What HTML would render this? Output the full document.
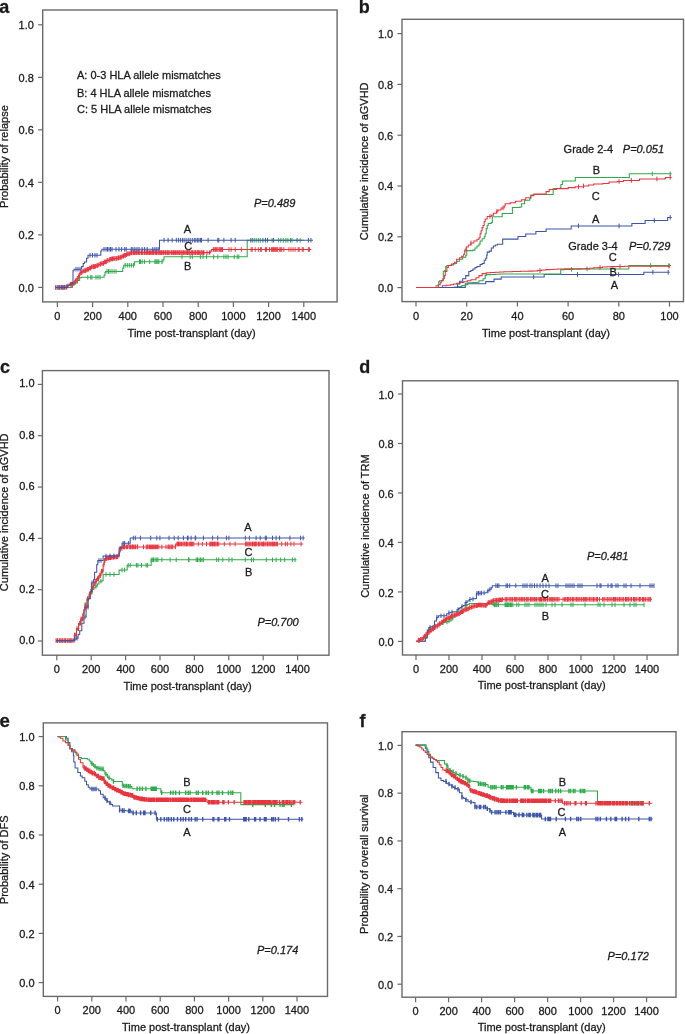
<!DOCTYPE html>
<html><head><meta charset="utf-8"><style>
html,body{margin:0;padding:0;background:#fff;width:685px;height:1034px;overflow:hidden}
svg{display:block;font-family:"Liberation Sans", sans-serif;will-change:transform;filter:blur(0.3px)}
text{stroke:#1a1a1a;stroke-width:0.28px;paint-order:stroke}
</style></head><body>
<svg width="685" height="1034" viewBox="0 0 685 1034" font-family='"Liberation Sans", sans-serif'>
<rect width="685" height="1034" fill="#fff"/>
<rect x="42.7" y="10" width="294.4" height="291.9" fill="none" stroke="#6a6a6a" stroke-width="1.4"/>
<path d="M38.1 287.4H42.7" stroke="#6a6a6a" stroke-width="1.2"/>
<text x="33.9" y="291.7" font-size="11" text-anchor="end" fill="#1a1a1a">0.0</text>
<path d="M38.1 234.88H42.7" stroke="#6a6a6a" stroke-width="1.2"/>
<text x="33.9" y="239.18" font-size="11" text-anchor="end" fill="#1a1a1a">0.2</text>
<path d="M38.1 182.36H42.7" stroke="#6a6a6a" stroke-width="1.2"/>
<text x="33.9" y="186.66" font-size="11" text-anchor="end" fill="#1a1a1a">0.4</text>
<path d="M38.1 129.84H42.7" stroke="#6a6a6a" stroke-width="1.2"/>
<text x="33.9" y="134.14" font-size="11" text-anchor="end" fill="#1a1a1a">0.6</text>
<path d="M38.1 77.32H42.7" stroke="#6a6a6a" stroke-width="1.2"/>
<text x="33.9" y="81.62" font-size="11" text-anchor="end" fill="#1a1a1a">0.8</text>
<path d="M38.1 24.8H42.7" stroke="#6a6a6a" stroke-width="1.2"/>
<text x="33.9" y="29.1" font-size="11" text-anchor="end" fill="#1a1a1a">1.0</text>
<path d="M57.4 301.9V306.9" stroke="#6a6a6a" stroke-width="1.2"/>
<text x="57.4" y="319.7" font-size="11" text-anchor="middle" fill="#1a1a1a">0</text>
<path d="M92.6 301.9V306.9" stroke="#6a6a6a" stroke-width="1.2"/>
<text x="92.6" y="319.7" font-size="11" text-anchor="middle" fill="#1a1a1a">200</text>
<path d="M127.8 301.9V306.9" stroke="#6a6a6a" stroke-width="1.2"/>
<text x="127.8" y="319.7" font-size="11" text-anchor="middle" fill="#1a1a1a">400</text>
<path d="M163 301.9V306.9" stroke="#6a6a6a" stroke-width="1.2"/>
<text x="163" y="319.7" font-size="11" text-anchor="middle" fill="#1a1a1a">600</text>
<path d="M198.2 301.9V306.9" stroke="#6a6a6a" stroke-width="1.2"/>
<text x="198.2" y="319.7" font-size="11" text-anchor="middle" fill="#1a1a1a">800</text>
<path d="M233.4 301.9V306.9" stroke="#6a6a6a" stroke-width="1.2"/>
<text x="233.4" y="319.7" font-size="11" text-anchor="middle" fill="#1a1a1a">1000</text>
<path d="M268.6 301.9V306.9" stroke="#6a6a6a" stroke-width="1.2"/>
<text x="268.6" y="319.7" font-size="11" text-anchor="middle" fill="#1a1a1a">1200</text>
<path d="M303.8 301.9V306.9" stroke="#6a6a6a" stroke-width="1.2"/>
<text x="303.8" y="319.7" font-size="11" text-anchor="middle" fill="#1a1a1a">1400</text>
<text x="127.6" y="337" font-size="11" text-anchor="start" fill="#1a1a1a">Time post-transplant (day)</text>
<text x="0" y="0" font-size="11" text-anchor="middle" fill="#1a1a1a" transform="translate(7.9 156.6) rotate(-90)">Probability of relapse</text>
<text x="-0.8" y="12.7" font-size="18" text-anchor="start" font-weight="bold" fill="#1a1a1a">a</text>
<text x="77" y="79.2" font-size="11" text-anchor="start" fill="#1a1a1a">A: 0-3 HLA allele mismatches</text>
<text x="77" y="96.9" font-size="11" text-anchor="start" fill="#1a1a1a">B: 4 HLA allele mismatches</text>
<text x="77" y="113.3" font-size="11" text-anchor="start" fill="#1a1a1a">C: 5 HLA allele mismatches</text>
<text x="254" y="206.6" font-size="11" text-anchor="start" font-style="italic" fill="#1a1a1a">P=0.489</text>
<path d="M55.6 287.5L70 287.5L72.4 287.5L72.4 285L73.95 285L73.95 283.95L75.5 283.95L75.5 282.9L77.5 282.9L77.5 280.4L79.6 280.4L79.6 277.8L81.6 277.8L81.6 277.3L104.1 277.3L104.1 275.3L105 275.3L105 272.5L105.5 272.5L105.5 271.4L122.7 271.4L122.7 268.3L123.7 268.3L123.7 265.3L133.4 265.3L134.4 265.3L134.4 261.7L162.5 261.7L163 261.7L163 259.6L164 259.6L164 256.8L247.2 256.8L247.2 240.3L303.8 240.3" fill="none" stroke="#2faa4a" stroke-width="1.05" stroke-linejoin="miter"/>
<path d="M60 285.2v4.6M63 285.2v4.6M66 285.2v4.6M87.8 275v4.6M90.8 275v4.6M91.9 275v4.6M96 275v4.6M98 275v4.6M100 275v4.6M107 269.1v4.6M108.5 269.1v4.6M110 269.1v4.6M112 269.1v4.6M114 269.1v4.6M116 269.1v4.6M125.2 263v4.6M127.3 263v4.6M129.3 263v4.6M131.4 263v4.6M133.4 263v4.6M139.5 259.4v4.6M140.5 259.4v4.6M142.1 259.4v4.6M144.6 259.4v4.6M149.7 259.4v4.6M154.9 259.4v4.6M155.9 259.4v4.6M156.9 259.4v4.6M157.9 259.4v4.6M158.9 259.4v4.6M162 259.4v4.6M182 254.5v4.6M190.2 254.5v4.6M192.3 254.5v4.6M200.4 254.5v4.6M203 254.5v4.6M206.6 254.5v4.6M213.7 254.5v4.6M217.8 254.5v4.6M223.9 254.5v4.6M226 254.5v4.6M228 254.5v4.6M234.2 254.5v4.6M237.2 254.5v4.6M238.8 254.5v4.6M250.6 238v4.6M254.2 238v4.6M256.2 238v4.6M258.3 238v4.6M260.3 238v4.6M272.1 238v4.6M278.7 238v4.6M280.8 238v4.6M283.3 238v4.6M285.9 238v4.6M287.9 238v4.6M290.5 238v4.6M292 238v4.6M300.2 238v4.6" fill="none" stroke="#2faa4a" stroke-width="1.0"/>
<path d="M55.6 287.5L57.54 287.5L57.54 287.4L59.48 287.4L59.48 287.3L61.42 287.3L61.42 287.2L63.36 287.2L63.36 287.1L65.3 287.1L65.3 287L66.8 287L66.8 286L68.3 286L68.3 285L70.35 285L70.35 284.2L72.4 284.2L72.4 283.4L73.95 283.4L73.95 282.15L75.5 282.15L75.5 280.9L77 280.9L77 278.3L78.6 278.3L78.6 275.3L80 275.3L80 272.5L81.8 272.5L81.8 271.6L83.6 271.6L83.6 270.7L85.45 270.7L85.45 269.95L87.3 269.95L87.3 269.2L89.1 269.2L89.1 268.1L90.9 268.1L90.9 267L92.75 267L92.75 266.65L94.6 266.65L94.6 266.3L96.4 266.3L96.4 265.55L98.2 265.55L98.2 264.8L99.7 264.8L99.7 264.1L101.2 264.1L101.2 263.4L104.1 263.4L104.1 261.9L106.3 261.9L106.3 260.4L109.2 260.4L109.2 259.3L111 259.3L111 258.95L112.8 258.95L112.8 258.6L114.65 258.6L114.65 258.4L116.5 258.4L116.5 258.2L118.3 258.2L118.3 257.7L120.1 257.7L120.1 257.2L121.95 257.2L121.95 256.25L123.8 256.25L123.8 255.3L125.6 255.3L125.6 254.6L127.4 254.6L127.4 253.9L130 253.9L130 252.8L132.5 252.8L132.5 252.7L135 252.7L135 252.6L210.7 252.6L210.7 251L211.5 251L211.5 249.5L311.4 249.5" fill="none" stroke="#e8343e" stroke-width="1.05" stroke-linejoin="miter"/>
<path d="M55.54 285.2v4.6M57.84 285.1v4.6M59.13 285.1v4.6M59.89 285v4.6M61.59 284.9v4.6M62.94 284.9v4.6M64.59 284.8v4.6M66.16 284.7v4.6M66.69 284.7v4.6M68.01 283.7v4.6M70.37 281.9v4.6M71.26 281.9v4.6M71.44 281.9v4.6M72.36 281.9v4.6M73.87 281.1v4.6M74.69 279.85v4.6M75.54 278.6v4.6M76.14 278.6v4.6M77.29 276v4.6M78.19 276v4.6M79.07 273v4.6M79.62 273v4.6M80.74 270.2v4.6M81.61 270.2v4.6M82.78 269.3v4.6M83.9 268.4v4.6M84.76 268.4v4.6M85.34 268.4v4.6M86.16 267.65v4.6M86.91 267.65v4.6M87.62 266.9v4.6M88.52 266.9v4.6M89.77 265.8v4.6M90.55 265.8v4.6M91.5 264.7v4.6M92.82 264.35v4.6M93.42 264.35v4.6M94.35 264.35v4.6M94.99 264v4.6M95.71 264v4.6M96.86 263.25v4.6M97.61 263.25v4.6M98.81 262.5v4.6M100.1 261.8v4.6M100.74 261.8v4.6M101.24 261.1v4.6M102.72 261.1v4.6M103.54 261.1v4.6M104.39 259.6v4.6M105.43 259.6v4.6M106.21 259.6v4.6M107.13 258.1v4.6M107.68 258.1v4.6M109.09 258.1v4.6M109.97 257v4.6M110.23 257v4.6M111.61 256.65v4.6M112.47 256.65v4.6M113.17 256.3v4.6M114.12 256.3v4.6M114.99 256.1v4.6M116.24 256.1v4.6M116.8 255.9v4.6M117.97 255.9v4.6M118.48 255.4v4.6M119.81 255.4v4.6M120.72 254.9v4.6M121.27 254.9v4.6M122.25 253.95v4.6M123.44 253.95v4.6M124.18 253v4.6M124.89 253v4.6M125.57 253v4.6M126.56 252.3v4.6M127.76 251.6v4.6M128.23 251.6v4.6M129.73 251.6v4.6M130.11 250.5v4.6M131.53 250.5v4.6M131.95 250.5v4.6M133.37 250.4v4.6M134.07 250.4v4.6M134.8 250.4v4.6M134.79 250.4v4.6M135.94 250.3v4.6M136.69 250.3v4.6M137.78 250.3v4.6M138.7 250.3v4.6M139.15 250.3v4.6M140.01 250.3v4.6M141.57 250.3v4.6M142.01 250.3v4.6M142.88 250.3v4.6M144.4 250.3v4.6M144.88 250.3v4.6M146.07 250.3v4.6M146.68 250.3v4.6M147.71 250.3v4.6M148.22 250.3v4.6M149.51 250.3v4.6M150.6 250.3v4.6M151.22 250.3v4.6M152.3 250.3v4.6M153.14 250.3v4.6M153.55 250.3v4.6M155.01 250.3v4.6M155.77 250.3v4.6M156.44 250.3v4.6M157.12 250.3v4.6M158.7 250.3v4.6M159.28 250.3v4.6M160.38 250.3v4.6M161.41 250.3v4.6M162.17 250.3v4.6M163.24 250.3v4.6M163.71 250.3v4.6M164.94 250.3v4.6M165.56 250.3v4.6M166.85 250.3v4.6M167.71 250.3v4.6M167.97 250.3v4.6M168.91 250.3v4.6M169.87 250.3v4.6M171.38 250.3v4.6M171.85 250.3v4.6M172.9 250.3v4.6M173.54 250.3v4.6M174.61 250.3v4.6M175.41 250.3v4.6M176.28 250.3v4.6M177.37 250.3v4.6M178.27 250.3v4.6M179.43 250.3v4.6M180.15 250.3v4.6M181.25 250.3v4.6M182.09 250.3v4.6M183.1 250.3v4.6M183.74 250.3v4.6M184.23 250.3v4.6M185.69 250.3v4.6M186.68 250.3v4.6M187.53 250.3v4.6M188.16 250.3v4.6M189.17 250.3v4.6M189.67 250.3v4.6M191.07 250.3v4.6M191.76 250.3v4.6M192.43 250.3v4.6M193.15 250.3v4.6M194.69 250.3v4.6M195.7 250.3v4.6M195.87 250.3v4.6M197.34 250.3v4.6M197.93 250.3v4.6M198.62 250.3v4.6M199.63 250.3v4.6M200.92 250.3v4.6M201.9 250.3v4.6M202.13 250.3v4.6M203.49 250.3v4.6M203.93 250.3v4.6M207 250.3v4.6M209.6 250.3v4.6M213.29 247.2v4.6M214.08 247.2v4.6M215.22 247.2v4.6M215.92 247.2v4.6M216.75 247.2v4.6M217.92 247.2v4.6M219.24 247.2v4.6M220.04 247.2v4.6M220.91 247.2v4.6M221.37 247.2v4.6M222.53 247.2v4.6M229 247.2v4.6M231.1 247.2v4.6M235.2 247.2v4.6M241.3 247.2v4.6M251.13 247.2v4.6M252.15 247.2v4.6M255.22 247.2v4.6M258.28 247.2v4.6M260.33 247.2v4.6M261.35 247.2v4.6M265.44 247.2v4.6M266.46 247.2v4.6M269.52 247.2v4.6M271.57 247.2v4.6M272.59 247.2v4.6M273.61 247.2v4.6M274.63 247.2v4.6M275.66 247.2v4.6M276.68 247.2v4.6M277.7 247.2v4.6M279.74 247.2v4.6M280.77 247.2v4.6M281.79 247.2v4.6M283.83 247.2v4.6M288.94 247.2v4.6M290.98 247.2v4.6M293.03 247.2v4.6M295.07 247.2v4.6M298.14 247.2v4.6M299.16 247.2v4.6M302.22 247.2v4.6M303.25 247.2v4.6M308.36 247.2v4.6M309.38 247.2v4.6" fill="none" stroke="#e8343e" stroke-width="1.0"/>
<path d="M55.6 287.5L65.3 287.5L67.3 287.5L67.3 285.3L69.65 285.3L69.65 283.95L72 283.95L72 282.6L73 282.6L73 270.7L74 270.7L74 269.2L80.5 269.2L81.6 269.2L81.6 266.6L83.2 266.6L83.2 263.5L84.4 263.5L84.4 261.9L86.6 261.9L86.6 258.2L88 258.2L88 255.3L99.7 255.3L100.8 255.3L100.8 250.9L101.9 250.9L101.9 249.3L159.5 249.3L159.5 240.2L313 240.2" fill="none" stroke="#3d55a8" stroke-width="1.05" stroke-linejoin="miter"/>
<path d="M57 285.2v4.6M59 285.2v4.6M62 285.2v4.6M64 285.2v4.6M76 266.9v4.6M78 266.9v4.6M80 266.9v4.6M90 253v4.6M92.5 253v4.6M95 253v4.6M97 253v4.6M104 247v4.6M106 247v4.6M107.5 247v4.6M109 247v4.6M110.5 247v4.6M112 247v4.6M116 247v4.6M119 247v4.6M121.6 247v4.6M124.7 247v4.6M126.2 247v4.6M131.3 247v4.6M132.9 247v4.6M134.9 247v4.6M137 247v4.6M139 247v4.6M142.1 247v4.6M144.6 247v4.6M147.2 247v4.6M152.8 247v4.6M154.9 247v4.6M156.9 247v4.6M158.9 247v4.6M164 237.9v4.6M168.1 237.9v4.6M172.2 237.9v4.6M176.3 237.9v4.6M178.4 237.9v4.6M180.4 237.9v4.6M182.4 237.9v4.6M184.1 237.9v4.6M186.1 237.9v4.6M188.2 237.9v4.6M190.2 237.9v4.6M192.3 237.9v4.6M194.3 237.9v4.6M195.8 237.9v4.6M197.4 237.9v4.6M198.9 237.9v4.6M200.4 237.9v4.6M201.5 237.9v4.6M208.1 237.9v4.6M217.8 237.9v4.6M218.8 237.9v4.6M223.9 237.9v4.6M231.1 237.9v4.6M235.2 237.9v4.6M252.2 237.9v4.6M262.9 237.9v4.6M265.4 237.9v4.6M267.5 237.9v4.6M273.6 237.9v4.6M297.1 237.9v4.6M308.4 237.9v4.6M310.9 237.9v4.6" fill="none" stroke="#3d55a8" stroke-width="1.0"/>
<text x="187.5" y="233" font-size="11" text-anchor="middle" fill="#1a1a1a">A</text>
<text x="188.2" y="249.9" font-size="11" text-anchor="middle" fill="#1a1a1a">C</text>
<text x="187.7" y="269.9" font-size="11" text-anchor="middle" fill="#1a1a1a">B</text>
<rect x="402" y="19.3" width="281.5" height="282.3" fill="none" stroke="#6a6a6a" stroke-width="1.4"/>
<path d="M397.4 287.6H402" stroke="#6a6a6a" stroke-width="1.2"/>
<text x="393.2" y="291.9" font-size="11" text-anchor="end" fill="#1a1a1a">0.0</text>
<path d="M397.4 236.8H402" stroke="#6a6a6a" stroke-width="1.2"/>
<text x="393.2" y="241.1" font-size="11" text-anchor="end" fill="#1a1a1a">0.2</text>
<path d="M397.4 186H402" stroke="#6a6a6a" stroke-width="1.2"/>
<text x="393.2" y="190.3" font-size="11" text-anchor="end" fill="#1a1a1a">0.4</text>
<path d="M397.4 135.2H402" stroke="#6a6a6a" stroke-width="1.2"/>
<text x="393.2" y="139.5" font-size="11" text-anchor="end" fill="#1a1a1a">0.6</text>
<path d="M397.4 84.4H402" stroke="#6a6a6a" stroke-width="1.2"/>
<text x="393.2" y="88.7" font-size="11" text-anchor="end" fill="#1a1a1a">0.8</text>
<path d="M397.4 33.6H402" stroke="#6a6a6a" stroke-width="1.2"/>
<text x="393.2" y="37.9" font-size="11" text-anchor="end" fill="#1a1a1a">1.0</text>
<path d="M416 301.6V306.6" stroke="#6a6a6a" stroke-width="1.2"/>
<text x="416" y="320" font-size="11" text-anchor="middle" fill="#1a1a1a">0</text>
<path d="M466.7 301.6V306.6" stroke="#6a6a6a" stroke-width="1.2"/>
<text x="466.7" y="320" font-size="11" text-anchor="middle" fill="#1a1a1a">20</text>
<path d="M517.4 301.6V306.6" stroke="#6a6a6a" stroke-width="1.2"/>
<text x="517.4" y="320" font-size="11" text-anchor="middle" fill="#1a1a1a">40</text>
<path d="M568.1 301.6V306.6" stroke="#6a6a6a" stroke-width="1.2"/>
<text x="568.1" y="320" font-size="11" text-anchor="middle" fill="#1a1a1a">60</text>
<path d="M618.8 301.6V306.6" stroke="#6a6a6a" stroke-width="1.2"/>
<text x="618.8" y="320" font-size="11" text-anchor="middle" fill="#1a1a1a">80</text>
<path d="M669.5 301.6V306.6" stroke="#6a6a6a" stroke-width="1.2"/>
<text x="669.5" y="320" font-size="11" text-anchor="middle" fill="#1a1a1a">100</text>
<text x="482" y="336.9" font-size="11" text-anchor="start" fill="#1a1a1a">Time post-transplant (day)</text>
<text x="0" y="0" font-size="11" text-anchor="middle" fill="#1a1a1a" transform="translate(367.9 161.3) rotate(-90)">Cumulative incidence of aGVHD</text>
<text x="358.8" y="13.4" font-size="18" text-anchor="start" font-weight="bold" fill="#1a1a1a">b</text>
<text x="563.6" y="153.3" font-size="11" text-anchor="start" fill="#1a1a1a">Grade 2-4</text>
<text x="622.8" y="153.3" font-size="11" text-anchor="start" font-style="italic" fill="#1a1a1a">P=0.051</text>
<text x="568.2" y="250.4" font-size="11" text-anchor="start" fill="#1a1a1a">Grade 3-4</text>
<text x="629" y="250.4" font-size="11" text-anchor="start" font-style="italic" fill="#1a1a1a">P=0.729</text>
<path d="M416 287.5L465.3 287.5L465.3 283.8L485.7 283.8L485.7 281.6L494 281.6L494 279.1L501.2 279.1L501.2 276.9L544.2 276.9L544.2 274.5L643.8 274.5L643.8 272.2L669.7 272.2" fill="none" stroke="#3d55a8" stroke-width="1.05" stroke-linejoin="miter"/>
<path d="M533.7 274.6v4.6M577.5 272.2v4.6M618.6 272.2v4.6M652.9 269.9v4.6M668.2 269.9v4.6" fill="none" stroke="#3d55a8" stroke-width="1.0"/>
<path d="M416 287.5L450.4 287.5L454.2 287.5L454.2 286.95L458 286.95L458 286.4L461.9 286.4L461.9 285.6L465.8 285.6L465.8 284.8L467.8 284.8L467.8 282.8L472.4 282.8L472.4 282.55L477 282.55L477 282.3L479 282.3L479 280.7L483.1 280.7L483.1 278.7L485.2 278.7L485.2 275.6L486.2 275.6L486.2 274.6L490.8 274.6L490.8 274.4L495.4 274.4L495.4 274.2L500 274.2L500 274L560 274L560.7 274L560.7 269.6L564.75 269.6L564.75 269.48L568.8 269.48L568.8 269.37L572.85 269.37L572.85 269.25L576.9 269.25L576.9 269.13L580.95 269.13L580.95 269.02L585 269.02L585 268.9L628.1 268.9L628.8 268.9L628.8 265.5L671.1 265.5" fill="none" stroke="#2faa4a" stroke-width="1.05" stroke-linejoin="miter"/>
<path d="M571.6 267.07v4.6M587 266.6v4.6M650.7 263.2v4.6M669 263.2v4.6" fill="none" stroke="#2faa4a" stroke-width="1.0"/>
<path d="M416 287.5L440 287.5L442.3 287.5L442.3 285.8L446.35 285.8L446.35 285.3L450.4 285.3L450.4 284.8L453.5 284.8L453.5 284.05L456.6 284.05L456.6 283.3L460.15 283.3L460.15 282.5L463.7 282.5L463.7 281.7L467.3 281.7L467.3 280.7L470.9 280.7L470.9 279.7L476 279.7L476 277.7L479 277.7L479 275.6L482.1 275.6L482.1 273.6L486.2 273.6L486.2 272.8L490.6 272.8L490.6 272.55L495 272.55L495 272.3L499.4 272.3L499.4 272.05L503.8 272.05L503.8 271.8L507.97 271.8L507.97 271.69L512.14 271.69L512.14 271.57L516.31 271.57L516.31 271.46L520.49 271.46L520.49 271.34L524.66 271.34L524.66 271.23L528.83 271.23L528.83 271.11L533 271.11L533 271L537.37 271L537.37 270.53L541.73 270.53L541.73 270.07L546.1 270.07L546.1 269.6L549.75 269.6L549.75 269.43L553.4 269.43L553.4 269.25L557.05 269.25L557.05 269.07L560.7 269.07L560.7 268.9L564.75 268.9L564.75 268.85L568.8 268.85L568.8 268.8L572.85 268.8L572.85 268.75L576.9 268.75L576.9 268.7L580.95 268.7L580.95 268.65L585 268.65L585 268.6L589.38 268.6L589.38 268.22L593.76 268.22L593.76 267.84L598.14 267.84L598.14 267.46L602.52 267.46L602.52 267.08L606.9 267.08L606.9 266.7L611.28 266.7L611.28 266.6L615.66 266.6L615.66 266.5L620.04 266.5L620.04 266.4L624.42 266.4L624.42 266.3L628.8 266.3L628.8 266.2L669.7 266.2" fill="none" stroke="#e8343e" stroke-width="1.05" stroke-linejoin="miter"/>
<path d="M540 268.23v4.6M600 265.16v4.6M620 264.2v4.6M669 263.9v4.6" fill="none" stroke="#e8343e" stroke-width="1.0"/>
<path d="M416 287.5L457 287.5L457.5 287.5L457.5 284L459.6 284L459.6 281.2L462.7 281.2L462.7 278.7L465.8 278.7L465.8 275.6L468.8 275.6L468.8 271.5L470.9 271.5L470.9 270.5L472.9 270.5L472.9 269L475 269L475 267.4L477 267.4L477 266.4L480.1 266.4L480.1 264.4L482.1 264.4L482.1 263.4L484.2 263.4L484.2 260.3L485.7 260.3L485.7 258.2L486.7 258.2L486.7 255.2L487.2 255.2L487.2 252.1L489.3 252.1L489.3 251.1L491.3 251.1L491.3 248L493.4 248L493.4 246L495.4 246L495.4 245L497.4 245L497.4 244.2L502.7 244.2L502.7 239.1L518 239.1L518 236.5L525.7 236.5L525.7 234L535.9 234L535.9 231.4L546.1 231.4L546.1 228.9L571.2 228.9L571.2 225.9L631.9 225.9L631.9 223.4L645.1 223.4L645.1 220.5L667.6 220.5L667.6 217.4L671.7 217.4" fill="none" stroke="#3d55a8" stroke-width="1.05" stroke-linejoin="miter"/>
<path d="M578.4 223.6v4.6M619.1 223.6v4.6M654.3 218.2v4.6M670.2 215.1v4.6" fill="none" stroke="#3d55a8" stroke-width="1.0"/>
<path d="M416 287.5L435 287.5L436.1 287.5L436.1 285.8L438.7 285.8L438.7 281.7L439.7 281.7L439.7 280.7L443.3 280.7L443.3 271.5L444.3 271.5L444.3 270.5L445.8 270.5L445.8 266.4L446.9 266.4L446.9 265.4L450.4 265.4L450.4 264.9L453.5 264.9L453.5 263.4L456.6 263.4L456.6 261.3L459.6 261.3L459.6 259.3L462.7 259.3L462.7 257.2L465.8 257.2L465.8 255.2L466.8 255.2L466.8 250.6L472.9 250.6L472.9 250.1L475 250.1L475 248L477 248L477 246L479 246L479 243.9L480.1 243.9L480.1 240.9L482.1 240.9L482.1 238.8L484.2 238.8L484.2 236.8L485.2 236.8L485.2 233.7L486.2 233.7L486.2 228.6L487.2 228.6L487.2 225.5L488.2 225.5L488.2 223.5L491.3 223.5L491.3 222.5L492.3 222.5L492.3 216.8L502.2 216.8L502.2 213.5L512.4 213.5L512.4 207.4L520 207.4L520 206.9L521.6 206.9L521.6 203.8L524.6 203.8L524.6 200.3L529.7 200.3L529.7 198.7L530.8 198.7L530.8 195.1L533.8 195.1L533.8 194.4L553.2 194.4L553.2 188.5L560.4 188.5L560.4 187.5L560.9 187.5L560.9 184.4L562.4 184.4L562.4 181.3L563.1 181.3L563.1 181L575.3 181L575.3 177.4L629.3 177.4L629.3 173.8L671.7 173.8" fill="none" stroke="#2faa4a" stroke-width="1.05" stroke-linejoin="miter"/>
<path d="M652.3 171.5v4.6M670.2 171.5v4.6" fill="none" stroke="#2faa4a" stroke-width="1.0"/>
<path d="M416 287.5L436 287.5L438.2 287.5L438.2 284.8L440.2 284.8L440.2 282.8L441.2 282.8L441.2 280.7L442.8 280.7L442.8 278.7L444.3 278.7L444.3 275.6L445.3 275.6L445.3 271.5L446.9 271.5L446.9 267.4L448.4 267.4L448.4 265.4L451.5 265.4L451.5 263.9L454.5 263.9L454.5 262.3L456.6 262.3L456.6 259.3L459.6 259.3L459.6 257.7L461.7 257.7L461.7 256.2L463.7 256.2L463.7 254.2L464.7 254.2L464.7 250.1L466.3 250.1L466.3 247L468.3 247L468.3 245L470.9 245L470.9 242.9L473.9 242.9L473.9 240.9L477 240.9L477 239.3L479 239.3L479 237.8L480.1 237.8L480.1 233.7L481.1 233.7L481.1 230.7L482.1 230.7L482.1 227.6L483.1 227.6L483.1 225.5L484.2 225.5L484.2 221.5L485.2 221.5L485.2 218.9L487.2 218.9L487.2 216.4L491.3 216.4L491.3 215.3L493.4 215.3L493.4 213.3L496.4 213.3L496.4 211.2L498.1 211.2L498.1 210L501.1 210L501.1 207.9L504.2 207.9L504.2 205.9L505.2 205.9L505.2 203.8L510.3 203.8L510.3 202.8L515.4 202.8L515.4 201.3L521.6 201.3L521.6 199.7L525.7 199.7L525.7 197.7L530.8 197.7L530.8 195.7L533.8 195.7L533.8 194.1L542 194.1L546.1 194.1L546.1 191.6L549.2 191.6L549.2 189.5L556.3 189.5L556.3 188.6L568.2 188.6L568.2 187.6L575.3 187.6L575.3 186.8L583.5 186.8L583.5 186L588.6 186L588.6 185L593.7 185L593.7 184L602.9 184L602.9 183.5L609 183.5L609 182L617.2 182L617.2 181.5L623.4 181.5L623.4 180.4L629.3 180.4L639.5 180.4L639.5 178.9L665 178.9L665 178.4L665.6 178.4L665.6 177.4L671.7 177.4" fill="none" stroke="#e8343e" stroke-width="1.05" stroke-linejoin="miter"/>
<path d="M466 247.8v4.6M471 240.6v4.6M490 214.1v4.6M497 208.9v4.6M503 205.6v4.6M578.4 184.5v4.6M583.5 183.7v4.6M619 179.2v4.6M631.4 178.1v4.6M656.9 176.6v4.6M670.2 175.1v4.6" fill="none" stroke="#e8343e" stroke-width="1.0"/>
<text x="596.3" y="173.8" font-size="11" text-anchor="middle" fill="#1a1a1a">B</text>
<text x="595.8" y="199.6" font-size="11" text-anchor="middle" fill="#1a1a1a">C</text>
<text x="595.6" y="222.5" font-size="11" text-anchor="middle" fill="#1a1a1a">A</text>
<text x="612.7" y="260.8" font-size="11" text-anchor="middle" fill="#1a1a1a">C</text>
<text x="613.1" y="276.2" font-size="11" text-anchor="middle" fill="#1a1a1a">B</text>
<text x="614.4" y="288.9" font-size="11" text-anchor="middle" fill="#1a1a1a">A</text>
<rect x="42.4" y="370.6" width="286.6" height="284.6" fill="none" stroke="#6a6a6a" stroke-width="1.4"/>
<path d="M37.8 641H42.4" stroke="#6a6a6a" stroke-width="1.2"/>
<text x="34.5" y="644" font-size="11" text-anchor="end" fill="#1a1a1a">0.0</text>
<path d="M37.8 589.68H42.4" stroke="#6a6a6a" stroke-width="1.2"/>
<text x="34.5" y="592.68" font-size="11" text-anchor="end" fill="#1a1a1a">0.2</text>
<path d="M37.8 538.36H42.4" stroke="#6a6a6a" stroke-width="1.2"/>
<text x="34.5" y="541.36" font-size="11" text-anchor="end" fill="#1a1a1a">0.4</text>
<path d="M37.8 487.04H42.4" stroke="#6a6a6a" stroke-width="1.2"/>
<text x="34.5" y="490.04" font-size="11" text-anchor="end" fill="#1a1a1a">0.6</text>
<path d="M37.8 435.72H42.4" stroke="#6a6a6a" stroke-width="1.2"/>
<text x="34.5" y="438.72" font-size="11" text-anchor="end" fill="#1a1a1a">0.8</text>
<path d="M37.8 384.4H42.4" stroke="#6a6a6a" stroke-width="1.2"/>
<text x="34.5" y="387.4" font-size="11" text-anchor="end" fill="#1a1a1a">1.0</text>
<path d="M56.8 655.2V660.2" stroke="#6a6a6a" stroke-width="1.2"/>
<text x="56.8" y="673" font-size="11" text-anchor="middle" fill="#1a1a1a">0</text>
<path d="M91.2 655.2V660.2" stroke="#6a6a6a" stroke-width="1.2"/>
<text x="91.2" y="673" font-size="11" text-anchor="middle" fill="#1a1a1a">200</text>
<path d="M125.6 655.2V660.2" stroke="#6a6a6a" stroke-width="1.2"/>
<text x="125.6" y="673" font-size="11" text-anchor="middle" fill="#1a1a1a">400</text>
<path d="M160 655.2V660.2" stroke="#6a6a6a" stroke-width="1.2"/>
<text x="160" y="673" font-size="11" text-anchor="middle" fill="#1a1a1a">600</text>
<path d="M194.4 655.2V660.2" stroke="#6a6a6a" stroke-width="1.2"/>
<text x="194.4" y="673" font-size="11" text-anchor="middle" fill="#1a1a1a">800</text>
<path d="M228.8 655.2V660.2" stroke="#6a6a6a" stroke-width="1.2"/>
<text x="228.8" y="673" font-size="11" text-anchor="middle" fill="#1a1a1a">1000</text>
<path d="M263.2 655.2V660.2" stroke="#6a6a6a" stroke-width="1.2"/>
<text x="263.2" y="673" font-size="11" text-anchor="middle" fill="#1a1a1a">1200</text>
<path d="M297.6 655.2V660.2" stroke="#6a6a6a" stroke-width="1.2"/>
<text x="297.6" y="673" font-size="11" text-anchor="middle" fill="#1a1a1a">1400</text>
<text x="123.6" y="689.9" font-size="11" text-anchor="start" fill="#1a1a1a">Time post-transplant (day)</text>
<text x="0" y="0" font-size="11" text-anchor="middle" fill="#1a1a1a" transform="translate(8.2 512.3) rotate(-90)">Cumulative incidence of aGVHD</text>
<text x="-0.1" y="373" font-size="18" text-anchor="start" font-weight="bold" fill="#1a1a1a">c</text>
<text x="257.4" y="625.6" font-size="11" text-anchor="start" font-style="italic" fill="#1a1a1a">P=0.700</text>
<path d="M56 640.6L73 640.6L74.4 640.6L74.4 635.5L76.5 635.5L76.5 629.5L78.6 629.5L78.6 624.5L80.8 624.5L80.8 620L82.9 620L82.9 614.7L84 614.7L84 610L85 610L85 603.1L87.1 603.1L87.1 598.8L89.3 598.8L89.3 594.6L90.9 594.6L90.9 591.95L92.5 591.95L92.5 589.3L94.1 589.3L94.1 587.7L95.7 587.7L95.7 586.1L97.3 586.1L97.3 583.95L98.9 583.95L98.9 581.8L100.45 581.8L100.45 581.25L102 581.25L102 580.7L103.1 580.7L103.1 574.4L118 574.4L119.1 574.4L119.1 570.1L120.97 570.1L120.97 570.05L122.85 570.05L122.85 570L124.72 570L124.72 569.95L126.6 569.95L126.6 569.9L127.2 569.9L127.2 565.3L150.7 565.3L151.2 565.3L151.2 559.8L296.5 559.8" fill="none" stroke="#2faa4a" stroke-width="1.05" stroke-linejoin="miter"/>
<path d="M88 596.5v4.6M92 589.65v4.6M96 583.8v4.6M101 578.95v4.6M106 572.1v4.6M110 572.1v4.6M114 572.1v4.6M122 567.75v4.6M124.6 567.7v4.6M128.2 563v4.6M130.2 563v4.6M136.4 563v4.6M137.9 563v4.6M141.5 563v4.6M146.1 563v4.6M147.6 563v4.6M151.23 557.5v4.6M152.71 557.5v4.6M153.56 557.5v4.6M155.07 557.5v4.6M156.77 557.5v4.6M157.91 557.5v4.6M161.9 557.5v4.6M170.1 557.5v4.6M176.2 557.5v4.6M188.5 557.5v4.6M189 557.5v4.6M196.2 557.5v4.6M197.5 557.5v4.6M199 557.5v4.6M200.5 557.5v4.6M202 557.5v4.6M203.4 557.5v4.6M216.7 557.5v4.6M218.7 557.5v4.6M222.8 557.5v4.6M228.9 557.5v4.6M232 557.5v4.6M245.3 557.5v4.6M251.5 557.5v4.6M253.6 557.5v4.6M266.3 557.5v4.6M272.5 557.5v4.6M276.1 557.5v4.6M280.7 557.5v4.6M284.7 557.5v4.6M292.4 557.5v4.6M295 557.5v4.6" fill="none" stroke="#2faa4a" stroke-width="1.0"/>
<path d="M56 640.6L72.3 640.6L74.4 640.6L74.4 635L76.5 635L76.5 628.6L78.6 628.6L78.6 623.3L80.8 623.3L80.8 619L82.9 619L82.9 613.7L84 613.7L84 609.5L85 609.5L85 606.3L87.1 606.3L87.1 598.8L89.3 598.8L89.3 594.6L90.3 594.6L90.3 591.4L91.9 591.4L91.9 587.65L93.5 587.65L93.5 583.9L95.1 583.9L95.1 581.25L96.7 581.25L96.7 578.6L98.9 578.6L98.9 575.4L101 575.4L101 571.2L103.1 571.2L103.1 564.8L104.2 564.8L104.2 560.5L105.2 560.5L105.2 558.4L107 558.4L107 558.03L108.8 558.03L108.8 557.67L110.6 557.67L110.6 557.3L112.37 557.3L112.37 557.13L114.13 557.13L114.13 556.97L115.9 556.97L115.9 556.8L118 556.8L118 555.2L119.1 555.2L119.1 548.8L120 548.8L120 548.4L122 548.4L122 546.9L175.2 546.9L175.7 546.9L175.7 544L303.1 544" fill="none" stroke="#e8343e" stroke-width="1.05" stroke-linejoin="miter"/>
<path d="M56.06 638.3v4.6M57.22 638.3v4.6M57.57 638.3v4.6M59.34 638.3v4.6M60.12 638.3v4.6M61.14 638.3v4.6M62.31 638.3v4.6M62.86 638.3v4.6M64.27 638.3v4.6M65.16 638.3v4.6M65.67 638.3v4.6M67.19 638.3v4.6M68.09 638.3v4.6M69.29 638.3v4.6M70.3 638.3v4.6M71.14 638.3v4.6M72.1 638.3v4.6M73.86 638.3v4.6M74.52 632.7v4.6M75.92 632.7v4.6M76.29 632.7v4.6M76.99 626.3v4.6M78.3 626.3v4.6M78.48 626.3v4.6M79.77 621v4.6M80.29 621v4.6M80.98 616.7v4.6M81.88 616.7v4.6M82.62 616.7v4.6M83.69 611.4v4.6M84.64 607.2v4.6M85.17 604v4.6M85.78 604v4.6M86.62 604v4.6M87.59 596.5v4.6M88.14 596.5v4.6M89.36 592.3v4.6M89.73 592.3v4.6M90.77 589.1v4.6M91.66 589.1v4.6M92.37 585.35v4.6M93.02 585.35v4.6M94.3 581.6v4.6M94.81 581.6v4.6M95.86 578.95v4.6M96.17 578.95v4.6M97.46 576.3v4.6M98.33 576.3v4.6M98.63 576.3v4.6M99.75 573.1v4.6M100.63 573.1v4.6M101.52 568.9v4.6M102.07 568.9v4.6M102.84 568.9v4.6M103.8 562.5v4.6M104.35 558.2v4.6M104.88 558.2v4.6M105.77 556.1v4.6M106.47 556.1v4.6M107.33 555.73v4.6M108.5 555.73v4.6M109.44 555.37v4.6M109.9 555.37v4.6M110.47 555.37v4.6M111.36 555v4.6M112.17 555v4.6M113.39 554.83v4.6M113.69 554.83v4.6M114.7 554.67v4.6M115.86 554.67v4.6M116.5 554.5v4.6M117.18 554.5v4.6M117.66 554.5v4.6M118.96 552.9v4.6M119.36 546.5v4.6M120.68 546.1v4.6M121.91 546.1v4.6M123.43 544.6v4.6M124.18 544.6v4.6M124.6 544.6v4.6M126.05 544.6v4.6M126.69 544.6v4.6M127.59 544.6v4.6M129.29 544.6v4.6M130.44 544.6v4.6M131.02 544.6v4.6M132.13 544.6v4.6M132.67 544.6v4.6M133.63 544.6v4.6M134.81 544.6v4.6M135.61 544.6v4.6M137.25 544.6v4.6M137.69 544.6v4.6M143.5 544.6v4.6M146.29 544.6v4.6M147.35 544.6v4.6M148.17 544.6v4.6M149.52 544.6v4.6M150.61 544.6v4.6M151.43 544.6v4.6M152.46 544.6v4.6M153.62 544.6v4.6M154.35 544.6v4.6M155.45 544.6v4.6M156.65 544.6v4.6M157.57 544.6v4.6M158.87 544.6v4.6M161.9 544.6v4.6M166 544.6v4.6M168.02 544.6v4.6M168.87 544.6v4.6M169.82 544.6v4.6M171.04 544.6v4.6M171.95 544.6v4.6M172.75 544.6v4.6M175.29 544.6v4.6M177.08 541.7v4.6M177.34 541.7v4.6M178.51 541.7v4.6M179.33 541.7v4.6M180.29 541.7v4.6M181.59 541.7v4.6M182.86 541.7v4.6M183.98 541.7v4.6M184.79 541.7v4.6M185.99 541.7v4.6M186.48 541.7v4.6M187.36 541.7v4.6M188.97 541.7v4.6M189.99 541.7v4.6M190.64 541.7v4.6M191.39 541.7v4.6M192.65 541.7v4.6M193.8 541.7v4.6M198.3 541.7v4.6M202.4 541.7v4.6M206.5 541.7v4.6M209.82 541.7v4.6M210.63 541.7v4.6M211.69 541.7v4.6M212.48 541.7v4.6M213.39 541.7v4.6M214.57 541.7v4.6M215.28 541.7v4.6M216.87 541.7v4.6M217.54 541.7v4.6M218.79 541.7v4.6M224.3 541.7v4.6M230 541.7v4.6M235.1 541.7v4.6M245.71 541.7v4.6M246.06 541.7v4.6M247.08 541.7v4.6M248.07 541.7v4.6M249.16 541.7v4.6M250.09 541.7v4.6M251.14 541.7v4.6M252.54 541.7v4.6M253.23 541.7v4.6M254.38 541.7v4.6M255.49 541.7v4.6M256.04 541.7v4.6M256.92 541.7v4.6M258.57 541.7v4.6M259.11 541.7v4.6M259.92 541.7v4.6M261.35 541.7v4.6M262.62 541.7v4.6M263.63 541.7v4.6M263.91 541.7v4.6M265.08 541.7v4.6M266.11 541.7v4.6M267.63 541.7v4.6M268 541.7v4.6M269.28 541.7v4.6M270.34 541.7v4.6M271.72 541.7v4.6M272.62 541.7v4.6M273.39 541.7v4.6M274.45 541.7v4.6M275.2 541.7v4.6M276.37 541.7v4.6M277.46 541.7v4.6M281.7 541.7v4.6M285.3 541.7v4.6M287.3 541.7v4.6M290.9 541.7v4.6M294 541.7v4.6M301.1 541.7v4.6" fill="none" stroke="#e8343e" stroke-width="1.0"/>
<path d="M56 640.6L73.3 640.6L73.3 639.8L74.9 639.8L74.9 639L76.5 639L76.5 638.2L78.1 638.2L78.1 634.45L79.7 634.45L79.7 630.7L81.8 630.7L81.8 623.3L84 623.3L84 616.9L86.1 616.9L86.1 607.3L88.2 607.3L88.2 598.8L90.3 598.8L90.3 591.4L91.4 591.4L91.4 582.9L93.5 582.9L93.5 579.7L94.6 579.7L94.6 572.2L96.7 572.2L96.7 564.8L97.8 564.8L97.8 560.5L103.1 560.5L103.1 556L118 556L119.1 556L119.1 552L120.1 552L120.1 547.8L122 547.8L122 543.3L129.7 543.3L130.2 543.3L130.2 538L304.7 538" fill="none" stroke="#3d55a8" stroke-width="1.05" stroke-linejoin="miter"/>
<path d="M75 636.7v4.6M77 635.9v4.6M85 614.6v4.6M88 605v4.6M92 580.6v4.6M99 558.2v4.6M101 558.2v4.6M106 553.7v4.6M110 553.7v4.6M114 553.7v4.6M123.1 541v4.6M124.6 541v4.6M128.7 541v4.6M133.3 535.7v4.6M135.3 535.7v4.6M140.4 535.7v4.6M150.7 535.7v4.6M156.8 535.7v4.6M159.9 535.7v4.6M169 535.7v4.6M174.2 535.7v4.6M178.2 535.7v4.6M183.4 535.7v4.6M187.4 535.7v4.6M188.1 535.7v4.6M191.1 535.7v4.6M195.2 535.7v4.6M195.7 535.7v4.6M203.4 535.7v4.6M212.6 535.7v4.6M217.7 535.7v4.6M226.4 535.7v4.6M228.9 535.7v4.6M245.3 535.7v4.6M249.4 535.7v4.6M256.1 535.7v4.6M260.2 535.7v4.6M265.3 535.7v4.6M266.3 535.7v4.6M272.5 535.7v4.6M276.1 535.7v4.6M279.6 535.7v4.6M289.9 535.7v4.6M300.6 535.7v4.6M303.1 535.7v4.6" fill="none" stroke="#3d55a8" stroke-width="1.0"/>
<text x="248" y="531" font-size="11" text-anchor="middle" fill="#1a1a1a">A</text>
<text x="248.6" y="555.6" font-size="11" text-anchor="middle" fill="#1a1a1a">C</text>
<text x="248.6" y="575.5" font-size="11" text-anchor="middle" fill="#1a1a1a">B</text>
<rect x="402.5" y="380.8" width="275.5" height="274.2" fill="none" stroke="#6a6a6a" stroke-width="1.4"/>
<path d="M397.9 641.4H402.5" stroke="#6a6a6a" stroke-width="1.2"/>
<text x="393.7" y="646.3" font-size="11" text-anchor="end" fill="#1a1a1a">0.0</text>
<path d="M397.9 591.92H402.5" stroke="#6a6a6a" stroke-width="1.2"/>
<text x="393.7" y="596.82" font-size="11" text-anchor="end" fill="#1a1a1a">0.2</text>
<path d="M397.9 542.44H402.5" stroke="#6a6a6a" stroke-width="1.2"/>
<text x="393.7" y="547.34" font-size="11" text-anchor="end" fill="#1a1a1a">0.4</text>
<path d="M397.9 492.96H402.5" stroke="#6a6a6a" stroke-width="1.2"/>
<text x="393.7" y="497.86" font-size="11" text-anchor="end" fill="#1a1a1a">0.6</text>
<path d="M397.9 443.48H402.5" stroke="#6a6a6a" stroke-width="1.2"/>
<text x="393.7" y="448.38" font-size="11" text-anchor="end" fill="#1a1a1a">0.8</text>
<path d="M397.9 394H402.5" stroke="#6a6a6a" stroke-width="1.2"/>
<text x="393.7" y="398.9" font-size="11" text-anchor="end" fill="#1a1a1a">1.0</text>
<path d="M416 655V660" stroke="#6a6a6a" stroke-width="1.2"/>
<text x="416" y="673" font-size="11" text-anchor="middle" fill="#1a1a1a">0</text>
<path d="M449 655V660" stroke="#6a6a6a" stroke-width="1.2"/>
<text x="449" y="673" font-size="11" text-anchor="middle" fill="#1a1a1a">200</text>
<path d="M482 655V660" stroke="#6a6a6a" stroke-width="1.2"/>
<text x="482" y="673" font-size="11" text-anchor="middle" fill="#1a1a1a">400</text>
<path d="M515 655V660" stroke="#6a6a6a" stroke-width="1.2"/>
<text x="515" y="673" font-size="11" text-anchor="middle" fill="#1a1a1a">600</text>
<path d="M548 655V660" stroke="#6a6a6a" stroke-width="1.2"/>
<text x="548" y="673" font-size="11" text-anchor="middle" fill="#1a1a1a">800</text>
<path d="M581 655V660" stroke="#6a6a6a" stroke-width="1.2"/>
<text x="581" y="673" font-size="11" text-anchor="middle" fill="#1a1a1a">1000</text>
<path d="M614 655V660" stroke="#6a6a6a" stroke-width="1.2"/>
<text x="614" y="673" font-size="11" text-anchor="middle" fill="#1a1a1a">1200</text>
<path d="M647 655V660" stroke="#6a6a6a" stroke-width="1.2"/>
<text x="647" y="673" font-size="11" text-anchor="middle" fill="#1a1a1a">1400</text>
<text x="477.7" y="689.2" font-size="11" text-anchor="start" fill="#1a1a1a">Time post-transplant (day)</text>
<text x="0" y="0" font-size="11" text-anchor="middle" fill="#1a1a1a" transform="translate(369 526.1) rotate(-90)">Cumulative incidence of TRM</text>
<text x="359.2" y="373" font-size="18" text-anchor="start" font-weight="bold" fill="#1a1a1a">d</text>
<text x="587" y="560" font-size="11" text-anchor="start" font-style="italic" fill="#1a1a1a">P=0.481</text>
<path d="M416 641.3L423 641.3L425.3 641.3L425.3 638.2L427.3 638.2L427.3 631.1L429 631.1L429 629.73L430.7 629.73L430.7 628.37L432.4 628.37L432.4 627L434.1 627L434.1 626L435.8 626L435.8 625L437.5 625L437.5 624L441.6 624L442 624L442 622.5L443.85 622.5L443.85 622.25L445.7 622.25L445.7 622L447.25 622L447.25 621.45L448.8 621.45L448.8 620.9L450.85 620.9L450.85 618.95L452.9 618.95L452.9 617L454.6 617L454.6 615.67L456.3 615.67L456.3 614.33L458 614.33L458 613L459.7 613L459.7 611.67L461.4 611.67L461.4 610.33L463.1 610.33L463.1 609L465.1 609L465.1 605.5L467.15 605.5L467.15 604.5L469.2 604.5L469.2 603.5L487.2 603.5L489.25 603.5L489.25 603.8L491.3 603.8L491.3 604.1L493.3 604.1L493.3 604.8L644 604.8" fill="none" stroke="#2faa4a" stroke-width="1.05" stroke-linejoin="miter"/>
<path d="M429 627.43v4.6M434 624.7v4.6M442 620.2v4.6M443 620.2v4.6M447 619.7v4.6M449 618.6v4.6M452 616.65v4.6M455 613.37v4.6M460 609.37v4.6M466 603.2v4.6M493.21 601.8v4.6M494.57 602.5v4.6M495.29 602.5v4.6M496.26 602.5v4.6M497.06 602.5v4.6M498.45 602.5v4.6M505.02 602.5v4.6M505.64 602.5v4.6M506.65 602.5v4.6M507.58 602.5v4.6M508.32 602.5v4.6M509.18 602.5v4.6M510.51 602.5v4.6M511.6 602.5v4.6M512.85 602.5v4.6M516.8 602.5v4.6M518.8 602.5v4.6M525 602.5v4.6M527 602.5v4.6M529 602.5v4.6M535 602.5v4.6M537 602.5v4.6M539 602.5v4.6M541 602.5v4.6M543 602.5v4.6M546 602.5v4.6M552 602.5v4.6M555 602.5v4.6M562 602.5v4.6M571 602.5v4.6M573 602.5v4.6M585 602.5v4.6M598 602.5v4.6M600 602.5v4.6M604 602.5v4.6M612 602.5v4.6M615 602.5v4.6M624 602.5v4.6M630 602.5v4.6M634 602.5v4.6M636 602.5v4.6M644 602.5v4.6" fill="none" stroke="#2faa4a" stroke-width="1.0"/>
<path d="M416 641.3L423.2 641.3L425.3 641.3L425.3 637.2L427.3 637.2L427.3 630.1L428.9 630.1L428.9 627.5L430.65 627.5L430.65 626.75L432.4 626.75L432.4 626L434.5 626L434.5 620.9L436.5 620.9L436.5 617.3L438.6 617.3L438.6 615.8L445.7 615.8L446.7 615.8L446.7 613.7L448.8 613.7L448.8 612.7L450.85 612.7L450.85 612.2L452.9 612.2L452.9 611.7L455.9 611.7L457 611.7L457 609.6L458.5 609.6L458.5 608.6L460 608.6L460 607.6L461.55 607.6L461.55 606.55L463.1 606.55L463.1 605.5L465.1 605.5L465.1 602.5L467.15 602.5L467.15 600.95L469.2 600.95L469.2 599.4L471.27 599.4L471.27 599.07L473.33 599.07L473.33 598.73L475.4 598.73L475.4 598.4L476.4 598.4L476.4 593.3L478.6 593.3L478.6 593.17L480.8 593.17L480.8 593.05L483 593.05L483 592.92L485.2 592.92L485.2 592.8L487.2 592.8L487.2 590.8L489.2 590.8L489.2 589.2L491.3 589.2L491.3 587.7L492.3 587.7L492.3 585.7L654 585.7" fill="none" stroke="#3d55a8" stroke-width="1.05" stroke-linejoin="miter"/>
<path d="M430 625.2v4.6M437 615v4.6M441 613.5v4.6M444 613.5v4.6M449 610.4v4.6M452 609.9v4.6M458 607.3v4.6M462 604.25v4.6M466 600.2v4.6M470 597.1v4.6M473 596.77v4.6M477 591v4.6M478.5 591v4.6M480 590.88v4.6M481.6 590.75v4.6M484.1 590.62v4.6M488 588.5v4.6M490 586.9v4.6M495.9 583.4v4.6M497.4 583.4v4.6M498.9 583.4v4.6M506.1 583.4v4.6M507.6 583.4v4.6M509.7 583.4v4.6M515.8 583.4v4.6M523 583.4v4.6M525 583.4v4.6M527 583.4v4.6M530 583.4v4.6M532 583.4v4.6M534.5 583.4v4.6M537 583.4v4.6M540 583.4v4.6M543 583.4v4.6M546 583.4v4.6M549 583.4v4.6M556 583.4v4.6M558 583.4v4.6M566 583.4v4.6M568 583.4v4.6M570 583.4v4.6M572 583.4v4.6M574 583.4v4.6M578 583.4v4.6M580 583.4v4.6M582 583.4v4.6M597 583.4v4.6M600 583.4v4.6M601 583.4v4.6M608 583.4v4.6M611 583.4v4.6M612 583.4v4.6M616 583.4v4.6M618 583.4v4.6M624 583.4v4.6M626 583.4v4.6M631 583.4v4.6M640 583.4v4.6M650 583.4v4.6M652 583.4v4.6M654 583.4v4.6" fill="none" stroke="#3d55a8" stroke-width="1.0"/>
<path d="M416 641.3L418.1 641.3L418.1 640.3L420.2 640.3L420.2 639.3L422.25 639.3L422.25 637.75L424.3 637.75L424.3 636.2L425.8 636.2L425.8 634.4L427.3 634.4L427.3 632.6L429 632.6L429 631.4L430.7 631.4L430.7 630.2L432.4 630.2L432.4 629L434.1 629L434.1 627.67L435.8 627.67L435.8 626.33L437.5 626.33L437.5 625L439.23 625L439.23 623.63L440.97 623.63L440.97 622.27L442.7 622.27L442.7 620.9L444.4 620.9L444.4 619.87L446.1 619.87L446.1 618.83L447.8 618.83L447.8 617.8L449.5 617.8L449.5 616.97L451.2 616.97L451.2 616.13L452.9 616.13L452.9 615.3L454.6 615.3L454.6 614.77L456.3 614.77L456.3 614.23L458 614.23L458 613.7L459.7 613.7L459.7 612.7L461.4 612.7L461.4 611.7L463.1 611.7L463.1 610.7L464.8 610.7L464.8 609.83L466.5 609.83L466.5 608.97L468.2 608.97L468.2 608.1L469.9 608.1L469.9 607.43L471.6 607.43L471.6 606.77L473.3 606.77L473.3 606.1L475 606.1L475 605.73L476.7 605.73L476.7 605.37L478.4 605.37L478.4 605L480.67 605L480.67 605.13L482.93 605.13L482.93 605.27L485.2 605.27L485.2 605.4L486.7 605.4L486.7 603.95L488.2 603.95L488.2 602.5L489.9 602.5L489.9 601.83L491.6 601.83L491.6 601.17L493.3 601.17L493.3 600.5L495 600.5L495 600.33L496.7 600.33L496.7 600.17L498.4 600.17L498.4 600L500.1 600L500.1 599.77L501.8 599.77L501.8 599.53L503.5 599.53L503.5 599.3L652 599.3" fill="none" stroke="#e8343e" stroke-width="1.05" stroke-linejoin="miter"/>
<path d="M418.26 638v4.6M418.7 638v4.6M419.45 638v4.6M420.65 637v4.6M421.98 637v4.6M422.22 637v4.6M423.44 635.45v4.6M424.33 633.9v4.6M424.98 633.9v4.6M425.96 632.1v4.6M426.84 632.1v4.6M428.1 630.3v4.6M428.9 630.3v4.6M429.89 629.1v4.6M430.76 627.9v4.6M431.33 627.9v4.6M432.69 626.7v4.6M433.36 626.7v4.6M434.29 625.37v4.6M434.91 625.37v4.6M435.85 624.03v4.6M437.24 624.03v4.6M438.02 622.7v4.6M439.04 622.7v4.6M439.41 621.33v4.6M440.19 621.33v4.6M441.74 619.97v4.6M442.7 619.97v4.6M443.43 618.6v4.6M444.13 618.6v4.6M445.06 617.57v4.6M445.58 617.57v4.6M446.57 616.53v4.6M447.93 615.5v4.6M448.24 615.5v4.6M449.45 615.5v4.6M450.59 614.67v4.6M451.39 613.83v4.6M451.81 613.83v4.6M452.77 613.83v4.6M454.06 613v4.6M454.65 612.47v4.6M455.95 612.47v4.6M456.68 611.93v4.6M457.7 611.93v4.6M458.33 611.4v4.6M459.25 611.4v4.6M460.64 610.4v4.6M461.53 609.4v4.6M462.41 609.4v4.6M462.87 609.4v4.6M463.74 608.4v4.6M465.04 607.53v4.6M465.93 607.53v4.6M466.66 606.67v4.6M467.8 606.67v4.6M468.09 606.67v4.6M469.31 605.8v4.6M469.93 605.13v4.6M471.15 605.13v4.6M471.66 604.47v4.6M472.75 604.47v4.6M473.9 603.8v4.6M474.73 603.8v4.6M476 603.43v4.6M476.64 603.43v4.6M477.51 603.07v4.6M478.5 602.7v4.6M479.54 602.7v4.6M480.38 602.7v4.6M481.17 602.83v4.6M481.75 602.83v4.6M482.88 602.83v4.6M483.75 602.97v4.6M484.89 602.97v4.6M485.38 603.1v4.6M486.16 603.1v4.6M487.24 601.65v4.6M488.2 600.2v4.6M489.01 600.2v4.6M489.82 600.2v4.6M490.85 599.53v4.6M491.59 599.53v4.6M492.78 598.87v4.6M493.35 598.2v4.6M494.13 598.2v4.6M495.79 598.03v4.6M496.48 598.03v4.6M497.14 597.87v4.6M498.31 597.87v4.6M499.11 597.7v4.6M499.59 597.7v4.6M500.58 597.47v4.6M501.67 597.47v4.6M502.62 597.23v4.6M505.15 597v4.6M506.26 597v4.6M506.74 597v4.6M507.95 597v4.6M509.87 597v4.6M510.2 597v4.6M511.79 597v4.6M512.64 597v4.6M514.26 597v4.6M515.09 597v4.6M515.83 597v4.6M516.76 597v4.6M518.02 597v4.6M519.65 597v4.6M520.89 597v4.6M521.76 597v4.6M522.27 597v4.6M523.92 597v4.6M524.56 597v4.6M526.2 597v4.6M526.78 597v4.6M527.81 597v4.6M528.88 597v4.6M530.71 597v4.6M531.14 597v4.6M532.13 597v4.6M533.24 597v4.6M534.51 597v4.6M535.75 597v4.6M536.59 597v4.6M538.13 597v4.6M539.59 597v4.6M540.52 597v4.6M541.49 597v4.6M542.07 597v4.6M543.64 597v4.6M544.7 597v4.6M545.4 597v4.6M547.15 597v4.6M547.6 597v4.6M549.23 597v4.6M550.29 597v4.6M551.37 597v4.6M552.71 597v4.6M553.12 597v4.6M554.31 597v4.6M555.8 597v4.6M556.96 597v4.6M557.81 597v4.6M559.02 597v4.6M563.07 597v4.6M564.71 597v4.6M565.32 597v4.6M567 597v4.6M567.47 597v4.6M568.61 597v4.6M570.04 597v4.6M570.88 597v4.6M572.54 597v4.6M573.69 597v4.6M575.09 597v4.6M576.63 597v4.6M577 597v4.6M578.3 597v4.6M579.8 597v4.6M581.14 597v4.6M581.87 597v4.6M583.42 597v4.6M584.3 597v4.6M585.62 597v4.6M586.66 597v4.6M587.97 597v4.6M589.39 597v4.6M590.87 597v4.6M592.07 597v4.6M593.42 597v4.6M593.66 597v4.6M594.95 597v4.6M596.59 597v4.6M597.51 597v4.6M599.54 597v4.6M602.64 597v4.6M603.85 597v4.6M605.02 597v4.6M607.05 597v4.6M607.89 597v4.6M609.16 597v4.6M610.85 597v4.6M612.04 597v4.6M613.56 597v4.6M614.32 597v4.6M615.54 597v4.6M617 597v4.6M618.05 597v4.6M619.59 597v4.6M620.91 597v4.6M622.16 597v4.6M623.62 597v4.6M625.47 597v4.6M626.42 597v4.6M627.78 597v4.6M628.67 597v4.6M630.11 597v4.6M631.48 597v4.6M633.43 597v4.6M634.35 597v4.6M635.09 597v4.6M636.28 597v4.6M638.03 597v4.6M639.54 597v4.6M640.74 597v4.6M642.54 597v4.6M643.35 597v4.6M644.07 597v4.6M645.42 597v4.6M647.17 597v4.6M648.71 597v4.6M649.78 597v4.6M650.65 597v4.6" fill="none" stroke="#e8343e" stroke-width="1.0"/>
<text x="545.2" y="582" font-size="11" text-anchor="middle" fill="#1a1a1a">A</text>
<text x="545" y="598" font-size="11" text-anchor="middle" fill="#1a1a1a">C</text>
<text x="545.5" y="620" font-size="11" text-anchor="middle" fill="#1a1a1a">B</text>
<rect x="43.3" y="722.9" width="284.2" height="273.5" fill="none" stroke="#6a6a6a" stroke-width="1.4"/>
<path d="M38.7 982.6H43.3" stroke="#6a6a6a" stroke-width="1.2"/>
<text x="34.5" y="986.9" font-size="11" text-anchor="end" fill="#1a1a1a">0.0</text>
<path d="M38.7 933.4H43.3" stroke="#6a6a6a" stroke-width="1.2"/>
<text x="34.5" y="937.7" font-size="11" text-anchor="end" fill="#1a1a1a">0.2</text>
<path d="M38.7 884.2H43.3" stroke="#6a6a6a" stroke-width="1.2"/>
<text x="34.5" y="888.5" font-size="11" text-anchor="end" fill="#1a1a1a">0.4</text>
<path d="M38.7 835H43.3" stroke="#6a6a6a" stroke-width="1.2"/>
<text x="34.5" y="839.3" font-size="11" text-anchor="end" fill="#1a1a1a">0.6</text>
<path d="M38.7 785.8H43.3" stroke="#6a6a6a" stroke-width="1.2"/>
<text x="34.5" y="790.1" font-size="11" text-anchor="end" fill="#1a1a1a">0.8</text>
<path d="M38.7 736.6H43.3" stroke="#6a6a6a" stroke-width="1.2"/>
<text x="34.5" y="740.9" font-size="11" text-anchor="end" fill="#1a1a1a">1.0</text>
<path d="M57.6 996.4V1001.4" stroke="#6a6a6a" stroke-width="1.2"/>
<text x="57.6" y="1014" font-size="11" text-anchor="middle" fill="#1a1a1a">0</text>
<path d="M91.8 996.4V1001.4" stroke="#6a6a6a" stroke-width="1.2"/>
<text x="91.8" y="1014" font-size="11" text-anchor="middle" fill="#1a1a1a">200</text>
<path d="M126 996.4V1001.4" stroke="#6a6a6a" stroke-width="1.2"/>
<text x="126" y="1014" font-size="11" text-anchor="middle" fill="#1a1a1a">400</text>
<path d="M160.2 996.4V1001.4" stroke="#6a6a6a" stroke-width="1.2"/>
<text x="160.2" y="1014" font-size="11" text-anchor="middle" fill="#1a1a1a">600</text>
<path d="M194.4 996.4V1001.4" stroke="#6a6a6a" stroke-width="1.2"/>
<text x="194.4" y="1014" font-size="11" text-anchor="middle" fill="#1a1a1a">800</text>
<path d="M228.6 996.4V1001.4" stroke="#6a6a6a" stroke-width="1.2"/>
<text x="228.6" y="1014" font-size="11" text-anchor="middle" fill="#1a1a1a">1000</text>
<path d="M262.8 996.4V1001.4" stroke="#6a6a6a" stroke-width="1.2"/>
<text x="262.8" y="1014" font-size="11" text-anchor="middle" fill="#1a1a1a">1200</text>
<path d="M297 996.4V1001.4" stroke="#6a6a6a" stroke-width="1.2"/>
<text x="297" y="1014" font-size="11" text-anchor="middle" fill="#1a1a1a">1400</text>
<text x="122" y="1030.9" font-size="11" text-anchor="start" fill="#1a1a1a">Time post-transplant (day)</text>
<text x="0" y="0" font-size="11" text-anchor="middle" fill="#1a1a1a" transform="translate(8.2 859.8) rotate(-90)">Probability of DFS</text>
<text x="-0.4" y="727" font-size="18.6" text-anchor="start" font-weight="bold" fill="#1a1a1a">e</text>
<text x="257" y="954.4" font-size="11" text-anchor="start" font-style="italic" fill="#1a1a1a">P=0.174</text>
<path d="M57.6 736.5L64.6 736.5L66.4 736.5L66.4 738.3L68.1 738.3L68.1 742.6L69.9 742.6L69.9 748.8L71.6 748.8L71.6 751.8L73.4 751.8L73.4 755.8L73.8 755.8L73.8 761.9L75.1 761.9L75.1 768L77.8 768L77.8 772.4L80.4 772.4L80.4 775.9L82.1 775.9L82.1 777.7L84.8 777.7L84.8 781.2L86.5 781.2L86.5 784.7L88.3 784.7L88.3 787.3L90 787.3L90 789L97.9 789L98.8 789L98.8 790.8L100.5 790.8L100.5 794.3L103.2 794.3L103.2 797.8L105.8 797.8L105.8 800.4L107.55 800.4L107.55 801.7L109.3 801.7L109.3 803L110.95 803L110.95 804.45L112.6 804.45L112.6 805.9L119.6 805.9L119.6 810.3L121.5 810.3L121.5 810.45L123.4 810.45L123.4 810.6L125.3 810.6L125.3 810.75L127.2 810.75L127.2 810.9L129.1 810.9L129.1 811.05L131 811.05L131 811.2L131.9 811.2L131.9 812.9L155.5 812.9L156.4 812.9L156.4 819.2L303.4 819.2" fill="none" stroke="#3d55a8" stroke-width="1.05" stroke-linejoin="miter"/>
<path d="M92 786.7v4.6M94 786.7v4.6M96 786.7v4.6M105 795.5v4.6M107 798.1v4.6M110 800.7v4.6M119.6 808v4.6M122.3 808.15v4.6M124 808.3v4.6M128.8 808.6v4.6M130.1 808.75v4.6M133.2 810.6v4.6M136.3 810.6v4.6M140.6 810.6v4.6M143.7 810.6v4.6M145 810.6v4.6M150.7 810.6v4.6M155.1 810.6v4.6M157.3 816.9v4.6M160.8 816.9v4.6M164.3 816.9v4.6M166.9 816.9v4.6M168.7 816.9v4.6M171.3 816.9v4.6M173.8 816.9v4.6M177.5 816.9v4.6M180.7 816.9v4.6M183.2 816.9v4.6M185.7 816.9v4.6M188.9 816.9v4.6M191.4 816.9v4.6M195.2 816.9v4.6M197 816.9v4.6M202.7 816.9v4.6M213 816.9v4.6M213.8 816.9v4.6M218.1 816.9v4.6M218.9 816.9v4.6M224.7 816.9v4.6M225.8 816.9v4.6M229.5 816.9v4.6M243.7 816.9v4.6M245.1 816.9v4.6M246.2 816.9v4.6M248.8 816.9v4.6M254.6 816.9v4.6M255.6 816.9v4.6M260 816.9v4.6M264.4 816.9v4.6M265.3 816.9v4.6M266.1 816.9v4.6M271.7 816.9v4.6M273.3 816.9v4.6M275.3 816.9v4.6M278.5 816.9v4.6M288.5 816.9v4.6M299.4 816.9v4.6M301.8 816.9v4.6" fill="none" stroke="#3d55a8" stroke-width="1.4"/>
<path d="M57.6 736.5L63.8 736.5L65.5 736.5L65.5 740L68.1 740L68.1 745.3L69.9 745.3L69.9 748.8L72.5 748.8L72.5 750.1L74.25 750.1L74.25 752.05L76 752.05L76 754L78.6 754L78.6 757.5L81.3 757.5L81.3 758.4L84.8 758.4L87.4 758.4L87.4 759.3L89.2 759.3L89.2 761L90.9 761L90.9 763.6L93.5 763.6L93.5 766.3L95.25 766.3L95.25 767.15L97 767.15L97 768L98.75 768L98.75 768.45L100.5 768.45L100.5 768.9L103.2 768.9L103.2 770.7L104.9 770.7L104.9 774.2L107.5 774.2L107.5 777.7L110 777.7L110 778.8L111.75 778.8L111.75 780.1L113.5 780.1L113.5 781.4L120.5 781.4L122.3 781.4L122.3 785.8L124.47 785.8L124.47 786L126.65 786L126.65 786.2L128.82 786.2L128.82 786.4L131 786.4L131 786.6L131.9 786.6L131.9 788.8L159 788.8L160.8 788.8L160.8 792.8L240.8 792.8L240.8 804.6L293.8 804.6" fill="none" stroke="#2faa4a" stroke-width="1.05" stroke-linejoin="miter"/>
<path d="M92 761.3v4.6M95 764v4.6M97 765.7v4.6M99 766.15v4.6M101 766.6v4.6M103 766.6v4.6M106 771.9v4.6M109 775.4v4.6M113.5 779.1v4.6M123.1 783.5v4.6M124.9 783.7v4.6M126.6 783.7v4.6M128.4 783.9v4.6M130.1 784.1v4.6M137.1 786.5v4.6M139.8 786.5v4.6M142.4 786.5v4.6M145.9 786.5v4.6M151.2 786.5v4.6M152.5 786.5v4.6M153.7 786.5v4.6M155 786.5v4.6M156.2 786.5v4.6M161.7 790.5v4.6M170.6 790.5v4.6M173.1 790.5v4.6M175.7 790.5v4.6M179.4 790.5v4.6M185.7 790.5v4.6M188.2 790.5v4.6M190.1 790.5v4.6M196.4 790.5v4.6M198.3 790.5v4.6M202.7 790.5v4.6M206.1 790.5v4.6M208.3 790.5v4.6M212.3 790.5v4.6M217 790.5v4.6M218.9 790.5v4.6M222.5 790.5v4.6M228.4 790.5v4.6M230.9 790.5v4.6M232.7 790.5v4.6M252.8 802.3v4.6M265.3 802.3v4.6M271.3 802.3v4.6M274.5 802.3v4.6M280.1 802.3v4.6M282.5 802.3v4.6M284.1 802.3v4.6M291.4 802.3v4.6" fill="none" stroke="#2faa4a" stroke-width="1.4"/>
<path d="M57.6 736.9L60.3 736.9L60.3 738.3L62.9 738.3L62.9 740.9L65.5 740.9L65.5 742.6L68.1 742.6L68.1 745.3L69.9 745.3L69.9 748.8L72.5 748.8L72.5 750.1L75.1 750.1L75.1 752.3L76.9 752.3L76.9 755.8L78.6 755.8L78.6 759.3L80.4 759.3L80.4 762.8L83 762.8L83 767.2L84.75 767.2L84.75 768.5L86.5 768.5L86.5 769.8L88.25 769.8L88.25 770.9L90 770.9L90 772L92.2 772L92.2 773.1L94.4 773.1L94.4 774.2L96.6 774.2L96.6 775.95L98.8 775.95L98.8 777.7L100.55 777.7L100.55 778.1L102.3 778.1L102.3 778.5L104 778.5L104 782L105.75 782L105.75 783.75L107.5 783.75L107.5 785.5L110 785.5L110 786.5L112.2 786.5L112.2 787.9L114.4 787.9L114.4 789.3L116.6 789.3L116.6 790.15L118.8 790.15L118.8 791L120.55 791L120.55 792.1L122.3 792.1L122.3 793.2L124.25 793.2L124.25 793.75L126.2 793.75L126.2 794.3L128.15 794.3L128.15 794.85L130.1 794.85L130.1 795.4L132.8 795.4L132.8 797.1L134.75 797.1L134.75 797.55L136.7 797.55L136.7 798L138.65 798L138.65 798.45L140.6 798.45L140.6 798.9L142.67 798.9L142.67 799.2L144.73 799.2L144.73 799.5L146.8 799.5L146.8 799.8L206 799.8L207 799.8L207 802.2L302.6 802.2" fill="none" stroke="#e8343e" stroke-width="1.05" stroke-linejoin="miter"/>
<path d="M84 764.9v4.6M84.84 766.2v4.6M86.06 766.2v4.6M86.94 767.5v4.6M87.84 767.5v4.6M88.41 768.6v4.6M89.77 768.6v4.6M90.05 769.7v4.6M91.44 769.7v4.6M92.24 770.8v4.6M92.75 770.8v4.6M94.26 770.8v4.6M94.94 771.9v4.6M95.35 771.9v4.6M96.81 773.65v4.6M97.64 773.65v4.6M98.42 773.65v4.6M98.9 775.4v4.6M100.33 775.4v4.6M101.48 775.8v4.6M102.34 776.2v4.6M102.74 776.2v4.6M103.93 776.2v4.6M104.42 779.7v4.6M105.62 779.7v4.6M106.28 781.45v4.6M107.42 781.45v4.6M108.03 783.2v4.6M109.17 783.2v4.6M110.01 784.2v4.6M110.81 784.2v4.6M112.2 785.6v4.6M113.15 785.6v4.6M113.78 785.6v4.6M114.83 787v4.6M115.6 787v4.6M116.61 787.85v4.6M117.1 787.85v4.6M118.02 787.85v4.6M118.95 788.7v4.6M120.01 788.7v4.6M120.91 789.8v4.6M122.13 789.8v4.6M122.95 790.9v4.6M123.47 790.9v4.6M124.4 791.45v4.6M125.56 791.45v4.6M126.49 792v4.6M126.84 792v4.6M128.04 792v4.6M128.6 792.55v4.6M130.06 792.55v4.6M131.19 793.1v4.6M131.44 793.1v4.6M132.66 793.1v4.6M133.86 794.8v4.6M134.25 794.8v4.6M134.94 795.25v4.6M136.27 795.25v4.6M137.18 795.7v4.6M138.13 795.7v4.6M139.2 796.15v4.6M139.7 796.15v4.6M140.79 796.6v4.6M141.95 796.6v4.6M142.24 796.6v4.6M143.04 796.9v4.6M144.37 796.9v4.6M144.93 797.2v4.6M146.29 797.2v4.6M146.64 797.2v4.6M148.13 797.5v4.6M148.92 797.5v4.6M150.04 797.5v4.6M150.92 797.5v4.6M151.91 797.5v4.6M153.16 797.5v4.6M154.31 797.5v4.6M154.7 797.5v4.6M156.24 797.5v4.6M157.11 797.5v4.6M157.98 797.5v4.6M159.17 797.5v4.6M160.23 797.5v4.6M161.17 797.5v4.6M161.99 797.5v4.6M163.29 797.5v4.6M164.25 797.5v4.6M164.98 797.5v4.6M165.69 797.5v4.6M166.81 797.5v4.6M167.79 797.5v4.6M168.89 797.5v4.6M170.38 797.5v4.6M170.66 797.5v4.6M172.22 797.5v4.6M173.06 797.5v4.6M173.8 797.5v4.6M175.17 797.5v4.6M175.88 797.5v4.6M176.75 797.5v4.6M178.14 797.5v4.6M179.15 797.5v4.6M180.25 797.5v4.6M180.93 797.5v4.6M182.06 797.5v4.6M183.28 797.5v4.6M184.29 797.5v4.6M184.76 797.5v4.6M185.96 797.5v4.6M186.73 797.5v4.6M187.6 797.5v4.6M188.67 797.5v4.6M190.21 797.5v4.6M190.9 797.5v4.6M191.84 797.5v4.6M193.3 797.5v4.6M194.31 797.5v4.6M195.4 797.5v4.6M195.72 797.5v4.6M196.64 797.5v4.6M197.62 797.5v4.6M198.91 797.5v4.6M200.26 797.5v4.6M201.32 797.5v4.6M202.12 797.5v4.6M203.3 797.5v4.6M204.09 797.5v4.6M204.68 797.5v4.6M205.6 797.5v4.6M208.35 799.9v4.6M209.54 799.9v4.6M211.08 799.9v4.6M212.29 799.9v4.6M213.49 799.9v4.6M214.33 799.9v4.6M215.18 799.9v4.6M216.78 799.9v4.6M217.77 799.9v4.6M218.84 799.9v4.6M222.9 799.9v4.6M224 799.9v4.6M228.4 799.9v4.6M234.2 799.9v4.6M244.03 799.9v4.6M245.32 799.9v4.6M245.95 799.9v4.6M247.03 799.9v4.6M248.49 799.9v4.6M249.25 799.9v4.6M250.31 799.9v4.6M251.04 799.9v4.6M252.74 799.9v4.6M253.55 799.9v4.6M254.38 799.9v4.6M255.43 799.9v4.6M256.11 799.9v4.6M257.48 799.9v4.6M258.62 799.9v4.6M259.12 799.9v4.6M260.08 799.9v4.6M261.41 799.9v4.6M262.07 799.9v4.6M263.32 799.9v4.6M264.19 799.9v4.6M264.99 799.9v4.6M266.26 799.9v4.6M267.68 799.9v4.6M268.44 799.9v4.6M269.14 799.9v4.6M270 799.9v4.6M271.03 799.9v4.6M272.84 799.9v4.6M273.64 799.9v4.6M274.49 799.9v4.6M275.44 799.9v4.6M276.72 799.9v4.6M277.05 799.9v4.6M279.48 799.9v4.6M282.23 799.9v4.6M283.4 799.9v4.6M285.05 799.9v4.6M286.56 799.9v4.6M287.75 799.9v4.6M289.33 799.9v4.6M290.06 799.9v4.6M291.97 799.9v4.6M293.72 799.9v4.6M294.73 799.9v4.6M300.2 799.9v4.6" fill="none" stroke="#e8343e" stroke-width="1.3"/>
<text x="187" y="785.6" font-size="11" text-anchor="middle" fill="#1a1a1a">B</text>
<text x="187" y="812.6" font-size="11" text-anchor="middle" fill="#1a1a1a">C</text>
<text x="187" y="836" font-size="11" text-anchor="middle" fill="#1a1a1a">A</text>
<rect x="402" y="731.7" width="274" height="265.5" fill="none" stroke="#6a6a6a" stroke-width="1.4"/>
<path d="M397.4 984.2H402" stroke="#6a6a6a" stroke-width="1.2"/>
<text x="393.2" y="988.5" font-size="11" text-anchor="end" fill="#1a1a1a">0.0</text>
<path d="M397.4 936.44H402" stroke="#6a6a6a" stroke-width="1.2"/>
<text x="393.2" y="940.74" font-size="11" text-anchor="end" fill="#1a1a1a">0.2</text>
<path d="M397.4 888.68H402" stroke="#6a6a6a" stroke-width="1.2"/>
<text x="393.2" y="892.98" font-size="11" text-anchor="end" fill="#1a1a1a">0.4</text>
<path d="M397.4 840.92H402" stroke="#6a6a6a" stroke-width="1.2"/>
<text x="393.2" y="845.22" font-size="11" text-anchor="end" fill="#1a1a1a">0.6</text>
<path d="M397.4 793.16H402" stroke="#6a6a6a" stroke-width="1.2"/>
<text x="393.2" y="797.46" font-size="11" text-anchor="end" fill="#1a1a1a">0.8</text>
<path d="M397.4 745.4H402" stroke="#6a6a6a" stroke-width="1.2"/>
<text x="393.2" y="749.7" font-size="11" text-anchor="end" fill="#1a1a1a">1.0</text>
<path d="M415.6 997.2V1002.2" stroke="#6a6a6a" stroke-width="1.2"/>
<text x="415.6" y="1015" font-size="11" text-anchor="middle" fill="#1a1a1a">0</text>
<path d="M448.6 997.2V1002.2" stroke="#6a6a6a" stroke-width="1.2"/>
<text x="448.6" y="1015" font-size="11" text-anchor="middle" fill="#1a1a1a">200</text>
<path d="M481.6 997.2V1002.2" stroke="#6a6a6a" stroke-width="1.2"/>
<text x="481.6" y="1015" font-size="11" text-anchor="middle" fill="#1a1a1a">400</text>
<path d="M514.6 997.2V1002.2" stroke="#6a6a6a" stroke-width="1.2"/>
<text x="514.6" y="1015" font-size="11" text-anchor="middle" fill="#1a1a1a">600</text>
<path d="M547.6 997.2V1002.2" stroke="#6a6a6a" stroke-width="1.2"/>
<text x="547.6" y="1015" font-size="11" text-anchor="middle" fill="#1a1a1a">800</text>
<path d="M580.6 997.2V1002.2" stroke="#6a6a6a" stroke-width="1.2"/>
<text x="580.6" y="1015" font-size="11" text-anchor="middle" fill="#1a1a1a">1000</text>
<path d="M613.6 997.2V1002.2" stroke="#6a6a6a" stroke-width="1.2"/>
<text x="613.6" y="1015" font-size="11" text-anchor="middle" fill="#1a1a1a">1200</text>
<path d="M646.6 997.2V1002.2" stroke="#6a6a6a" stroke-width="1.2"/>
<text x="646.6" y="1015" font-size="11" text-anchor="middle" fill="#1a1a1a">1400</text>
<text x="477.7" y="1030.9" font-size="11" text-anchor="start" fill="#1a1a1a">Time post-transplant (day)</text>
<text x="0" y="0" font-size="11" text-anchor="middle" fill="#1a1a1a" transform="translate(368.2 864.2) rotate(-90)">Probability of overall survival</text>
<text x="359.5" y="727" font-size="18" text-anchor="start" font-weight="bold" fill="#1a1a1a">f</text>
<text x="607.6" y="960.4" font-size="11" text-anchor="start" font-style="italic" fill="#1a1a1a">P=0.172</text>
<path d="M415.6 745.1L422.6 745.1L425.3 745.1L425.3 748.1L427 748.1L427 751.6L428.8 751.6L428.8 757.8L430.5 757.8L430.5 762.1L433.1 762.1L433.1 767.4L435.8 767.4L435.8 772.6L438.4 772.6L438.4 777.9L441 777.9L441 780.5L443.6 780.5L443.6 781.4L446.3 781.4L446.3 783.2L448.05 783.2L448.05 784.05L449.8 784.05L449.8 784.9L451.55 784.9L451.55 786.2L453.3 786.2L453.3 787.5L455.05 787.5L455.05 788.4L456.8 788.4L456.8 789.3L459.4 789.3L459.4 792.8L462 792.8L462 797.2L463.75 797.2L463.75 798.5L465.5 798.5L465.5 799.8L468 799.8L468 801.8L469.77 801.8L469.77 802.07L471.53 802.07L471.53 802.33L473.3 802.33L473.3 802.6L475 802.6L475 807L483.8 807L485.55 807L485.55 807.9L487.3 807.9L487.3 808.8L489.9 808.8L489.9 810.5L491.6 810.5L491.6 812.2L513.3 812.2L513.5 812.2L513.5 814.8L515.48 814.8L515.48 814.83L517.46 814.83L517.46 814.86L519.44 814.86L519.44 814.89L521.41 814.89L521.41 814.91L523.39 814.91L523.39 814.94L525.37 814.94L525.37 814.97L527.35 814.97L527.35 815L529.33 815L529.33 815.03L531.31 815.03L531.31 815.06L533.29 815.06L533.29 815.09L535.26 815.09L535.26 815.11L537.24 815.11L537.24 815.14L539.22 815.14L539.22 815.17L541.2 815.17L541.2 815.2L541.6 815.2L541.6 819L652.8 819" fill="none" stroke="#3d55a8" stroke-width="1.05" stroke-linejoin="miter"/>
<path d="M446 779.1v4.6M449 781.75v4.6M452 783.9v4.6M455 785.2v4.6M458 787v4.6M462 794.9v4.6M466 797.5v4.6M471 799.77v4.6M475 804.7v4.6M476.8 804.7v4.6M479.4 804.7v4.6M480.7 804.7v4.6M483.8 804.7v4.6M485.5 804.7v4.6M487.3 806.5v4.6M489.9 808.2v4.6M491.6 809.9v4.6M495.1 809.9v4.6M496.9 809.9v4.6M498.6 809.9v4.6M500.4 809.9v4.6M505.9 809.9v4.6M508.5 809.9v4.6M509.9 809.9v4.6M511.2 809.9v4.6M514.5 812.5v4.6M515.8 812.53v4.6M519 812.56v4.6M522.3 812.61v4.6M523.7 812.64v4.6M526.9 812.67v4.6M528.9 812.7v4.6M530.2 812.73v4.6M532.9 812.76v4.6M534.2 812.79v4.6M536.1 812.81v4.6M537.5 812.84v4.6M539.4 812.87v4.6M540.7 812.87v4.6M545.3 816.7v4.6M547.9 816.7v4.6M548.8 816.7v4.6M549.6 816.7v4.6M550.5 816.7v4.6M556.2 816.7v4.6M565.4 816.7v4.6M570.6 816.7v4.6M576.8 816.7v4.6M578.5 816.7v4.6M580.7 816.7v4.6M596 816.7v4.6M597.8 816.7v4.6M600.3 816.7v4.6M606.4 816.7v4.6M610.8 816.7v4.6M615.1 816.7v4.6M616.5 816.7v4.6M622.1 816.7v4.6M625.6 816.7v4.6M628.7 816.7v4.6M638.8 816.7v4.6M649.3 816.7v4.6M651 816.7v4.6" fill="none" stroke="#3d55a8" stroke-width="1.4"/>
<path d="M415.6 745.1L423.5 745.1L426.1 745.1L426.1 749L427.9 749L427.9 754.3L430.5 754.3L430.5 756.9L432.25 756.9L432.25 758.2L434 758.2L434 759.5L436.6 759.5L436.6 760.4L442.8 760.4L444.5 760.4L444.5 763.9L446.3 763.9L446.3 765.6L448 765.6L448 769.1L449.75 769.1L449.75 770.45L451.5 770.45L451.5 771.8L453.25 771.8L453.25 772.65L455 772.65L455 773.5L456.75 773.5L456.75 774.4L458.5 774.4L458.5 775.3L460.25 775.3L460.25 775.75L462 775.75L462 776.2L463.75 776.2L463.75 777.05L465.5 777.05L465.5 777.9L468 777.9L468 780.8L469.92 780.8L469.92 781.06L471.84 781.06L471.84 781.32L473.76 781.32L473.76 781.58L475.68 781.58L475.68 781.84L477.6 781.84L477.6 782.1L478.5 782.1L478.5 783.8L480.7 783.8L480.7 784.02L482.9 784.02L482.9 784.25L485.1 784.25L485.1 784.48L487.3 784.48L487.3 784.7L488.1 784.7L488.1 787.2L530.5 787.2L531 787.2L531 791L597.5 791L597.5 803.2L644 803.2" fill="none" stroke="#2faa4a" stroke-width="1.05" stroke-linejoin="miter"/>
<path d="M447 763.3v4.6M450 768.15v4.6M453 769.5v4.6M456 771.2v4.6M460 773v4.6M463 773.9v4.6M466 775.6v4.6M468 778.5v4.6M469.8 778.5v4.6M478.5 781.5v4.6M480.3 781.5v4.6M482 781.73v4.6M483.8 781.95v4.6M485.5 782.18v4.6M490.8 784.9v4.6M492.5 784.9v4.6M494.3 784.9v4.6M496 784.9v4.6M501.3 784.9v4.6M503 784.9v4.6M506.6 784.9v4.6M507.5 784.9v4.6M508.5 784.9v4.6M509.5 784.9v4.6M510.5 784.9v4.6M511.5 784.9v4.6M512.5 784.9v4.6M513.1 784.9v4.6M516.4 784.9v4.6M524.3 784.9v4.6M525.6 784.9v4.6M527.6 784.9v4.6M528.9 784.9v4.6M531.5 788.7v4.6M532.9 788.7v4.6M538.8 788.7v4.6M540.1 788.7v4.6M541.4 788.7v4.6M543.5 788.7v4.6M548.8 788.7v4.6M550.5 788.7v4.6M552.3 788.7v4.6M555.8 788.7v4.6M558.4 788.7v4.6M560.6 788.7v4.6M568.9 788.7v4.6M570.6 788.7v4.6M573.3 788.7v4.6M575 788.7v4.6M580.3 788.7v4.6M582 788.7v4.6M583.8 788.7v4.6M584.7 788.7v4.6M631 800.9v4.6M633 800.9v4.6M635 800.9v4.6M637 800.9v4.6M639 800.9v4.6M641 800.9v4.6M643 800.9v4.6" fill="none" stroke="#2faa4a" stroke-width="1.4"/>
<path d="M415.6 745.1L417.8 745.1L417.8 746.2L420 746.2L420 747.3L421.75 747.3L421.75 749.05L423.5 749.05L423.5 750.8L425.25 750.8L425.25 752.55L427 752.55L427 754.3L428.75 754.3L428.75 755.6L430.5 755.6L430.5 756.9L432.25 756.9L432.25 758.2L434 758.2L434 759.5L435.75 759.5L435.75 760.8L437.5 760.8L437.5 762.1L439.3 762.1L439.3 764.8L441 764.8L441 767.4L442.8 767.4L442.8 770L444.55 770L444.55 770.45L446.3 770.45L446.3 770.9L448.05 770.9L448.05 772.2L449.8 772.2L449.8 773.5L451.55 773.5L451.55 774.85L453.3 774.85L453.3 776.2L455.05 776.2L455.05 777.5L456.8 777.5L456.8 778.8L458.55 778.8L458.55 780.1L460.3 780.1L460.3 781.4L462.05 781.4L462.05 782.3L463.8 782.3L463.8 783.2L465.55 783.2L465.55 784.5L467.3 784.5L467.3 785.8L469.8 785.8L469.8 790.4L471.53 790.4L471.53 790.97L473.27 790.97L473.27 791.53L475 791.53L475 792.1L476.77 792.1L476.77 792.7L478.53 792.7L478.53 793.3L480.3 793.3L480.3 793.9L482.03 793.9L482.03 794.47L483.77 794.47L483.77 795.03L485.5 795.03L485.5 795.6L487.7 795.6L487.7 796.5L489.9 796.5L489.9 797.4L492.1 797.4L492.1 798.25L494.3 798.25L494.3 799.1L496.45 799.1L496.45 799.8L498.6 799.8L498.6 800.5L500.8 800.5L500.8 800.65L503 800.65L503 800.8L561.9 800.8L562.5 800.8L562.5 803.2L652.4 803.2" fill="none" stroke="#e8343e" stroke-width="1.05" stroke-linejoin="miter"/>
<path d="M446.11 768.15v4.6M447 768.6v4.6M447.59 768.6v4.6M448.95 769.9v4.6M449.47 769.9v4.6M450.39 771.2v4.6M451.58 772.55v4.6M452.18 772.55v4.6M453.56 773.9v4.6M454.07 773.9v4.6M454.9 773.9v4.6M455.51 775.2v4.6M457.01 776.5v4.6M457.47 776.5v4.6M458.56 777.8v4.6M459.64 777.8v4.6M460.37 779.1v4.6M461.67 779.1v4.6M462.11 780v4.6M462.99 780v4.6M463.68 780v4.6M464.52 780.9v4.6M465.49 780.9v4.6M466.76 782.2v4.6M467.29 782.2v4.6M468.5 783.5v4.6M469.12 783.5v4.6M470.54 788.1v4.6M470.82 788.1v4.6M472.32 788.67v4.6M473.35 789.23v4.6M474.26 789.23v4.6M474.77 789.23v4.6M475.95 789.8v4.6M476.33 789.8v4.6M477.87 790.4v4.6M478.79 791v4.6M479.48 791v4.6M480.58 791.6v4.6M481.2 791.6v4.6M482.38 792.17v4.6M482.81 792.17v4.6M483.46 792.17v4.6M484.46 792.73v4.6M485.9 793.3v4.6M486.78 793.3v4.6M487.31 793.3v4.6M488.47 794.2v4.6M489.52 794.2v4.6M489.98 795.1v4.6M490.81 795.1v4.6M492.29 795.95v4.6M492.69 795.95v4.6M494.04 795.95v4.6M494.4 796.8v4.6M495.87 796.8v4.6M496.03 796.8v4.6M497.18 797.5v4.6M498.15 797.5v4.6M498.74 798.2v4.6M500.25 798.2v4.6M501.26 798.35v4.6M501.73 798.35v4.6M502.86 798.35v4.6M502.6 798.35v4.6M503.3 798.5v4.6M504.47 798.5v4.6M505.88 798.5v4.6M506.78 798.5v4.6M507.3 798.5v4.6M508.95 798.5v4.6M509.93 798.5v4.6M510.19 798.5v4.6M511.73 798.5v4.6M512.49 798.5v4.6M513.22 798.5v4.6M514.44 798.5v4.6M515.73 798.5v4.6M516.25 798.5v4.6M517.44 798.5v4.6M520.7 798.5v4.6M521.87 798.5v4.6M522.72 798.5v4.6M523.83 798.5v4.6M525.35 798.5v4.6M525.57 798.5v4.6M527.26 798.5v4.6M528.18 798.5v4.6M528.58 798.5v4.6M529.58 798.5v4.6M531.05 798.5v4.6M532.36 798.5v4.6M532.93 798.5v4.6M534.21 798.5v4.6M535.3 798.5v4.6M536.44 798.5v4.6M537.13 798.5v4.6M537.89 798.5v4.6M539.23 798.5v4.6M540.09 798.5v4.6M540.98 798.5v4.6M542.3 798.5v4.6M542.93 798.5v4.6M544.13 798.5v4.6M545.19 798.5v4.6M546.34 798.5v4.6M546.67 798.5v4.6M548.29 798.5v4.6M549.37 798.5v4.6M549.62 798.5v4.6M550.75 798.5v4.6M555.3 798.5v4.6M558.4 798.5v4.6M560.1 798.5v4.6M561.9 798.5v4.6M564.5 800.9v4.6M566.3 800.9v4.6M568 800.9v4.6M570.2 800.9v4.6M575 800.9v4.6M575.9 800.9v4.6M581.2 800.9v4.6M585.5 800.9v4.6M586.4 800.9v4.6M596 800.9v4.6M597.8 800.9v4.6M597.97 800.9v4.6M599.06 800.9v4.6M600.28 800.9v4.6M601.23 800.9v4.6M601.72 800.9v4.6M602.69 800.9v4.6M604.22 800.9v4.6M605.17 800.9v4.6M606.1 800.9v4.6M607.43 800.9v4.6M608.04 800.9v4.6M608.82 800.9v4.6M609.85 800.9v4.6M610.58 800.9v4.6M612.28 800.9v4.6M612.92 800.9v4.6M614.01 800.9v4.6M614.68 800.9v4.6M616.38 800.9v4.6M616.92 800.9v4.6M617.6 800.9v4.6M619.2 800.9v4.6M620.23 800.9v4.6M620.63 800.9v4.6M622.15 800.9v4.6M622.7 800.9v4.6M623.74 800.9v4.6M625.38 800.9v4.6M626.4 800.9v4.6M626.61 800.9v4.6M627.64 800.9v4.6M629.59 800.9v4.6M631.7 800.9v4.6M632.34 800.9v4.6M634.14 800.9v4.6M634.96 800.9v4.6M636.85 800.9v4.6M637.97 800.9v4.6M638.59 800.9v4.6M640.94 800.9v4.6M642.1 800.9v4.6M642.89 800.9v4.6M649.3 800.9v4.6" fill="none" stroke="#e8343e" stroke-width="1.3"/>
<text x="562.3" y="786.4" font-size="11" text-anchor="middle" fill="#1a1a1a">B</text>
<text x="561.6" y="816.4" font-size="11" text-anchor="middle" fill="#1a1a1a">C</text>
<text x="562.4" y="836" font-size="11" text-anchor="middle" fill="#1a1a1a">A</text>
</svg>
</body></html>
